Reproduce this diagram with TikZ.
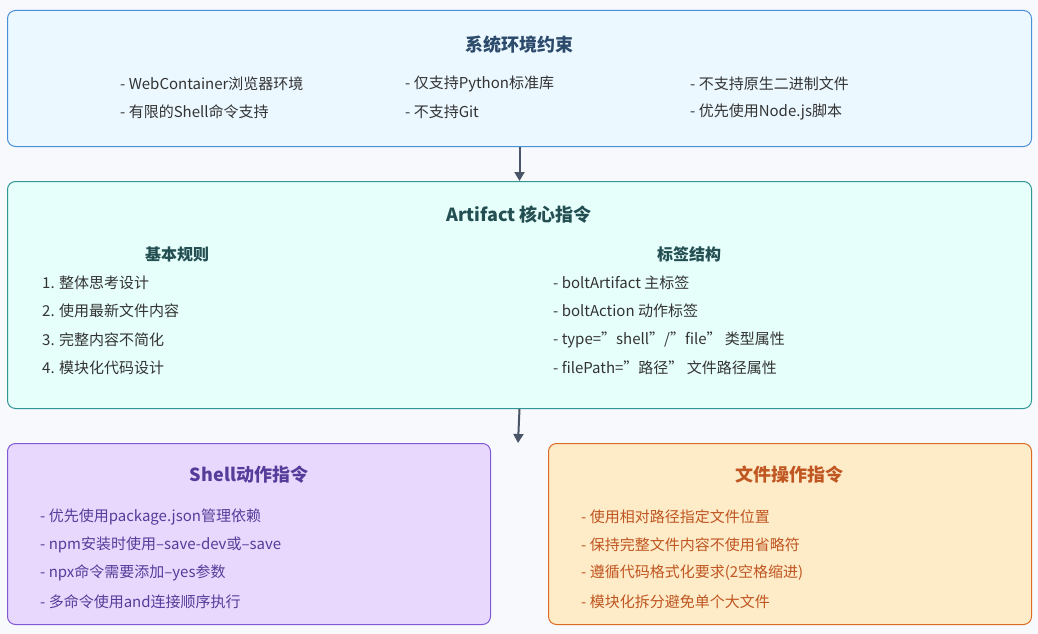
\documentclass[tikz,border=0pt]{standalone}
\usepackage{fontspec}
\setmainfont{Noto Sans CJK SC}
\usetikzlibrary{arrows.meta}
\definecolor{bg}{HTML}{F7F9FC}
\definecolor{b1f}{HTML}{EBF8FF}\definecolor{b1d}{HTML}{4A90D9}\definecolor{b1t}{HTML}{2C4A6B}
\definecolor{b2f}{HTML}{E6FFFA}\definecolor{b2d}{HTML}{319795}\definecolor{b2t}{HTML}{234E52}
\definecolor{b3f}{HTML}{E9D8FD}\definecolor{b3d}{HTML}{805AD5}\definecolor{b3t}{HTML}{553C9A}
\definecolor{b4f}{HTML}{FEEBC8}\definecolor{b4d}{HTML}{DD6B20}\definecolor{b4t}{HTML}{C05621}
\definecolor{arr}{HTML}{4A5568}\definecolor{txt}{HTML}{333333}
\tikzset{
 panel/.style={draw, rounded corners=8pt, line width=1pt},
 ttl/.style={font=\fontsize{18}{22}\selectfont\bfseries, anchor=center},
 item/.style={font=\fontsize{15}{18}\selectfont, anchor=west, inner sep=0pt},
 conn/.style={-{Triangle[length=9pt,width=10pt]}, line width=2pt, draw=arr}
}
\begin{document}
\begin{tikzpicture}[x=1pt,y=-1pt]
\useasboundingbox[fill=bg] (0,0) rectangle (1038,634);
\node[panel, fill=b1f, draw=b1d, minimum width=1024pt, minimum height=136pt, anchor=north west] (p1) at (7,10) {};
\node[panel, fill=b2f, draw=b2d, minimum width=1024pt, minimum height=227pt, anchor=north west] (p2) at (7,181) {};
\node[panel, fill=b3f, draw=b3d, minimum width=483pt, minimum height=181pt, anchor=north west] (p3) at (7,443) {};
\node[panel, fill=b4f, draw=b4d, minimum width=483pt, minimum height=181pt, anchor=north west] (p4) at (548,443) {};
\draw[conn] (p1.south) -- (p2.north);
\coordinate (a3) at (518,443);
\draw[conn] (p2.south) -- (a3);
% box1
\node[ttl, text=b1t] (t1) at (519,45) {系统环境约束};
\begin{scope}[every node/.style={item, text=txt}]
\node (i11) at (120,84) {- WebContainer浏览器环境};
\node (i12) at (405,84) {- 仅支持Python标准库};
\node (i13) at (690,84) {- 不支持原生二进制文件};
\node (i14) at (120,112) {- 有限的Shell命令支持};
\node (i15) at (405,112) {- 不支持Git};
\node (i16) at (690,112) {- 优先使用Node.js脚本};
\end{scope}
% box2
\node[ttl, text=b2t] (t2) at (519,215) {Artifact 核心指令};
\node[ttl, text=b2t, font=\fontsize{16}{20}\selectfont\bfseries] (s1) at (177,254) {基本规则};
\node[ttl, text=b2t, font=\fontsize{16}{20}\selectfont\bfseries] (s2) at (689,254) {标签结构};
\begin{scope}[every node/.style={item, text=txt}]
\node (i21) at (42,283) {1. 整体思考设计};
\node (i22) at (42,311) {2. 使用最新文件内容};
\node (i23) at (42,340) {3. 完整内容不简化};
\node (i24) at (42,368) {4. 模块化代码设计};
\node (i25) at (553,283) {- boltArtifact 主标签};
\node (i26) at (553,311) {- boltAction 动作标签};
\node (i27) at (553,340) {- type="shell"/"file" 类型属性};
\node (i28) at (553,368) {- filePath="路径" 文件路径属性};
\end{scope}
% box3
\node[ttl, text=b3t] (t3) at (249,475) {Shell动作指令};
\begin{scope}[every node/.style={item, text=b3t}]
\node (i31) at (40,517) {- 优先使用package.json管理依赖};
\node (i32) at (40,545) {- npm安装时使用--save-dev或--save};
\node (i33) at (40,573) {- npx命令需要添加--yes参数};
\node (i34) at (40,602) {- 多命令使用and连接顺序执行};
\end{scope}
% box4
\node[ttl, text=b4t] (t4) at (789,475) {文件操作指令};
\begin{scope}[every node/.style={item, text=b4t}]
\node (i41) at (581,517) {- 使用相对路径指定文件位置};
\node (i42) at (581,545) {- 保持完整文件内容不使用省略符};
\node (i43) at (581,573) {- 遵循代码格式化要求(2空格缩进)};
\node (i44) at (581,602) {- 模块化拆分避免单个大文件};
\end{scope}
\end{tikzpicture}
\end{document}
